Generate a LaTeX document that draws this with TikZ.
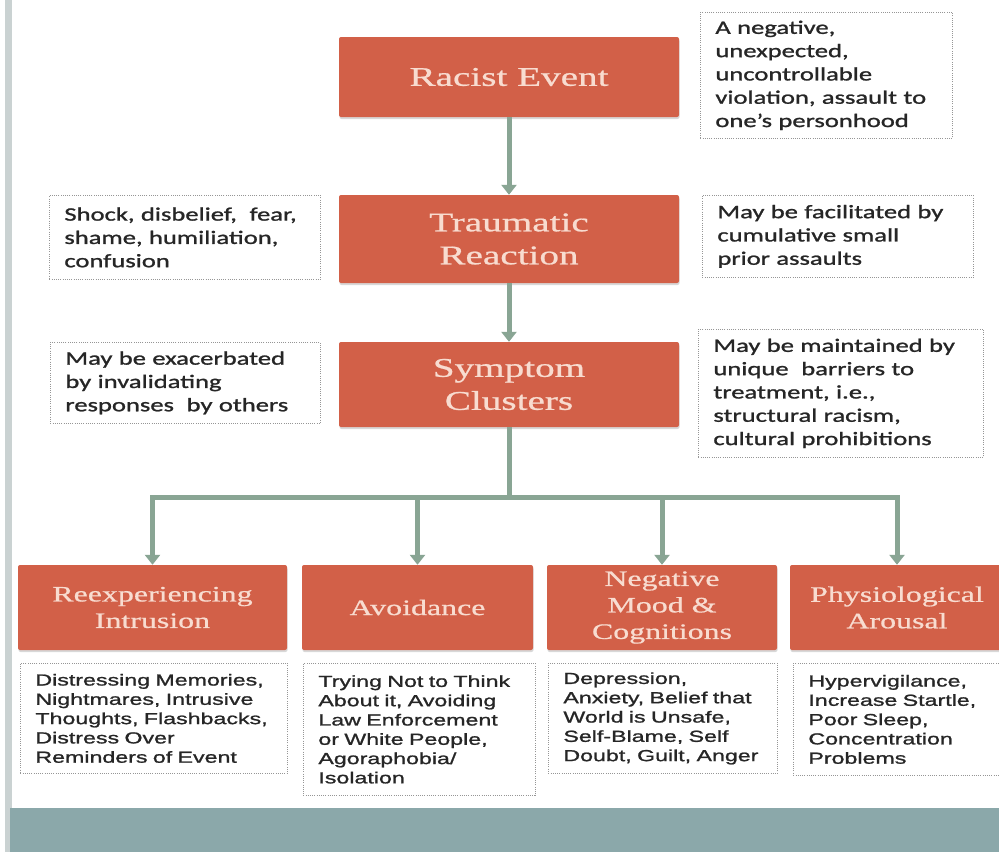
\documentclass[tikz,border=0pt]{standalone}
\usepackage{fontspec}
\usetikzlibrary{arrows.meta,shadows}
\newfontfamily\boxfont[FakeStretch=1.45,FakeBold=0.8]{Liberation Serif}
\newfontfamily\notefont[FakeStretch=1.4,FakeBold=1.2]{Carlito}
\newfontfamily\listfont[FakeStretch=1.45,FakeBold=1.2]{Liberation Sans}
\definecolor{boxred}{RGB}{210,96,72}
\definecolor{boxtext}{RGB}{248,220,208}
\definecolor{linkcol}{RGB}{137,165,148}
\definecolor{bandcol}{RGB}{139,168,170}
\definecolor{barcol}{RGB}{202,210,210}
\definecolor{dotcol}{RGB}{150,150,150}
\tikzset{
  mainbox/.style={fill=boxred, rounded corners=2pt, text=boxtext, align=center,
    minimum width=340pt, inner sep=0pt,
    drop shadow={shadow xshift=0.5pt, shadow yshift=-2pt, opacity=0.3},
    font=\boxfont\fontsize{27}{33}\selectfont},
  subbox/.style={fill=boxred, rounded corners=2pt, text=boxtext, align=center,
    minimum height=85pt, inner sep=0pt,
    drop shadow={shadow xshift=0.5pt, shadow yshift=-2pt, opacity=0.3},
    font=\boxfont\fontsize{22}{26.5}\selectfont},
  notebox/.style={draw=dotcol, dash pattern=on 1pt off 1.2pt, line width=0.8pt,
    anchor=north west, align=left, inner xsep=15pt, inner ysep=0pt, text=black!85,
    font=\notefont\fontsize{19}{23.3}\selectfont},
  listbox/.style={notebox, font=\listfont\fontsize{16}{19.3}\selectfont},
  link/.style={draw=linkcol, line width=5pt},
  linkarrow/.style={link, -{Triangle[width=15pt,length=10pt]}}
}
\begin{document}
\begin{tikzpicture}[x=1pt,y=-1pt]
\useasboundingbox (0,0) rectangle (999,852);
\clip (0,0) rectangle (999,852);
\fill[white] (0,0) rectangle (999,852);
% frame elements
\fill[barcol] (5,0) rectangle (12,852);
\fill[bandcol] (10,808) rectangle (999,852);

% main boxes
\node[mainbox, minimum height=80pt] (racist) at (509,77) {Racist Event};
\node[mainbox, minimum height=88pt] (trauma) at (509,239) {Traumatic\\Reaction};
\node[mainbox, minimum height=85pt] (symptom) at (509,384.5) {Symptom\\Clusters};

% sub boxes
\node[subbox, minimum width=269pt] (reexp) at (152.5,607.5) {Reexperiencing\\Intrusion};
\node[subbox, minimum width=231pt] (avoid) at (417.5,607.5) {Avoidance};
\node[subbox, minimum width=230pt] (negmood) at (662,607.5) {Negative\\Mood \&\\Cognitions};
\node[subbox, minimum width=214pt] (physio) at (897,607.5) {Physiological\\Arousal};

% side notes
\node[notebox, text width=222pt, minimum height=126pt] (nracist) at (700,12)
  {A negative,\\unexpected,\\uncontrollable\\violation, assault to\\one’s personhood};
\node[notebox, text width=241pt, minimum height=84pt] (nshock) at (49,195)
  {Shock, disbelief, \ fear,\\shame, humiliation,\\confusion};
\node[notebox, text width=241pt, minimum height=82pt] (nfacil) at (702,195)
  {May be facilitated by\\cumulative small\\prior assaults};
\node[notebox, text width=240pt, minimum height=81pt] (nexac) at (50,342)
  {May be exacerbated\\by invalidating\\responses \ by others};
\node[notebox, text width=255pt, minimum height=128pt] (nmaint) at (698,329)
  {May be maintained by\\unique \ barriers to\\treatment, i.e.,\\structural racism,\\cultural prohibitions};

% bottom lists
\node[listbox, text width=237pt, minimum height=110pt] (lreexp) at (20,663)
  {Distressing Memories,\\Nightmares, Intrusive\\Thoughts, Flashbacks,\\Distress Over\\Reminders of Event};
\node[listbox, text width=202pt, minimum height=132pt] (lavoid) at (303,663)
  {Trying Not to Think\\About it, Avoiding\\Law Enforcement\\or White People,\\Agoraphobia/\\Isolation};
\node[listbox, text width=199pt, minimum height=110pt] (lneg) at (548,663)
  {Depression,\\Anxiety, Belief that\\World is Unsafe,\\Self-Blame, Self\\Doubt, Guilt, Anger};
\node[listbox, text width=185pt, minimum height=112pt] (lphys) at (793,663)
  {Hypervigilance,\\Increase Startle,\\Poor Sleep,\\Concentration\\Problems};

% connectors
\coordinate (junc) at (509,497);
\draw[linkarrow] (racist.south) -- (trauma.north);
\draw[linkarrow] (trauma.south) -- (symptom.north);
\draw[link] (symptom.south) -- (junc);
\draw[linkarrow] (junc) -| (reexp.north);
\draw[linkarrow] (junc) -| (avoid.north);
\draw[linkarrow] (junc) -| (negmood.north);
\draw[linkarrow] (junc) -| (physio.north);
\end{tikzpicture}
\end{document}
